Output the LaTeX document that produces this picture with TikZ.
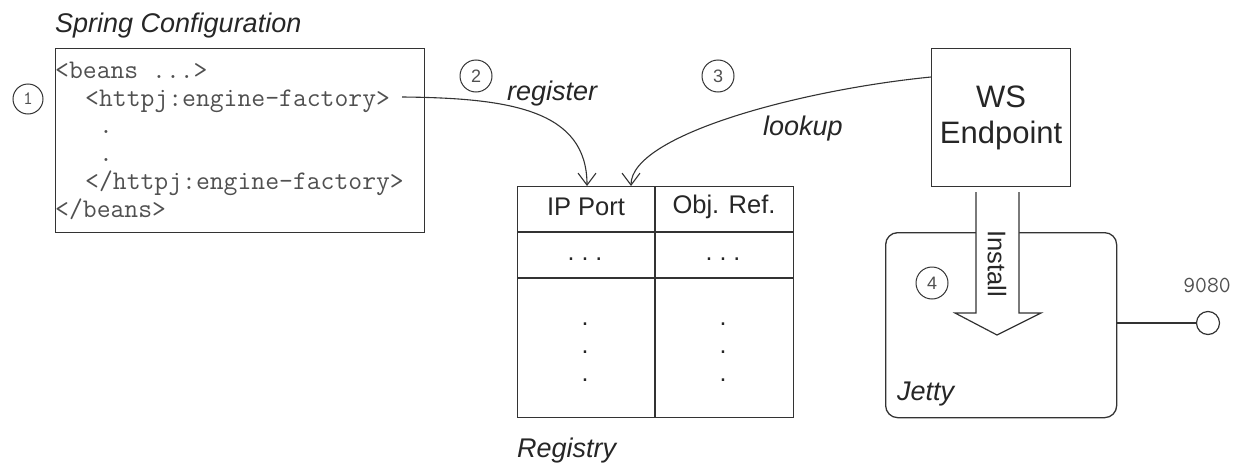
\documentclass[tikz,border=0pt]{standalone}
\usepackage{fontspec}
\setmainfont{Liberation Sans}
\usetikzlibrary{arrows.meta}
\definecolor{ln}{HTML}{333333}
\definecolor{codegray}{HTML}{505050}
\begin{document}
\begin{tikzpicture}[x=1pt,y=-1pt,
  box/.style={draw=ln, line width=1.3pt, inner sep=0pt, anchor=north west},
  code/.style={font=\fontsize{26.9}{30}\selectfont\ttfamily, text=codegray, inner sep=0pt, anchor=base west},
  num/.style={circle, draw=ln, line width=1pt, minimum size=32pt, inner sep=0pt, font=\fontsize{18}{20}\selectfont, text=codegray},
  lbl/.style={font=\fontsize{27}{30}\selectfont\itshape, text=black!85, inner sep=0pt, anchor=base west},
  cell/.style={font=\fontsize{25.5}{30}\selectfont, text=black!85, inner sep=0pt},
  dotc/.style={font=\fontsize{25}{30}\selectfont, text=black!85, inner sep=0pt, anchor=base},
  conn/.style={draw=ln, line width=1.1pt, -{Straight Barb[length=12pt,width=18pt,line width=1.1pt]}},
]
\useasboundingbox (0,0) rectangle (1239,463);

% Spring configuration
\node[lbl] (springlbl) at (55,32) {Spring Configuration};
\node[box, minimum width=369pt, minimum height=184pt] (spring) at (55,48) {};
\node[code] (c1) at (55,78) {<beans ...>};
\node[code] (c2) at (85,106) {<httpj:engine-factory>};
\node[code] (c3) at (99,133.5) {.};
\node[code] (c4) at (99,161.5) {.};
\node[code] (c5) at (85,189) {</httpj:engine-factory>};
\node[code] (c6) at (55,217) {</beans>};
\node[num, minimum size=30pt, font=\fontsize{19}{20}\selectfont\ttfamily] (n1) at (28,99) {1};

% Registry table
\node[box, minimum width=276pt, minimum height=231pt] (reg) at (517,186) {};
\draw[ln, line width=1.3pt] (517,232) -- (793,232);
\draw[ln, line width=1.3pt] (517,278) -- (793,278);
\draw[ln, line width=1.3pt] (655,186) -- (655,417);
\node[cell] (h1) at (586,207) {IP Port};
\node[cell] (h2) at (724,207) {Obj. Ref.};
\node[dotc] (d1) at (585,260.5) {.\ .\ .};
\node[dotc] (d2) at (723,260.5) {.\ .\ .};
\node[dotc] (v1) at (585,325.5) {.};
\node[dotc] (v2) at (585,353.5) {.};
\node[dotc] (v3) at (585,381.5) {.};
\node[dotc] (v4) at (723,325.5) {.};
\node[dotc] (v5) at (723,353.5) {.};
\node[dotc] (v6) at (723,381.5) {.};
\node[lbl] (reglbl) at (517,457) {Registry};

% WS endpoint
\node[box, minimum width=139pt, minimum height=138pt, align=center,
      font=\fontsize{31}{36}\selectfont, text=black!85] (ws) at (931,48) {WS\\Endpoint};

% Connectors
\coordinate (regstart) at (402,97);
\coordinate (regin1) at (587,186);
\coordinate (wsout) at (931,77);
\coordinate (regin2) at (631,186);
\draw[conn] (regstart) .. controls (510,98) and (587,110) .. (regin1);
\draw[conn] (wsout) .. controls (800,90) and (631,135) .. (regin2);
\node[num] (n2) at (476,76) {2};
\node[num] (n3) at (718,76) {3};
\node[lbl] (reglab) at (507,100) {register};
\node[lbl] (looklab) at (763,135) {lookup};

% Jetty
\node[box, rounded corners=12pt, minimum width=231pt, minimum height=185pt] (jetty) at (885,232) {};
\node[lbl] (jettylbl) at (897,400) {Jetty};
\node[num] (n4) at (932,283) {4};

% Install arrow
\fill[white] (976,192) -- (976,313) -- (955,313) -- (997,335) -- (1041,313) -- (1019,313) -- (1019,192) -- cycle;
\draw[ln, line width=1.2pt, line join=miter] (976,192) -- (976,313) -- (955,313) -- (997,335) -- (1041,313) -- (1019,313) -- (1019,192);
\node[cell, rotate=-90] (install) at (997,264) {Install};

% Port
\node[circle, draw=ln, line width=1.2pt, minimum size=23pt, inner sep=0pt] (port) at (1208,323) {};
\draw[ln, line width=2.4pt] (jetty.east |- port) -- (port.west);
\node[font=\fontsize{23}{24}\selectfont\ttfamily, text=codegray, inner sep=0pt] (portlbl) at (1207,285) {9080};
\end{tikzpicture}
\end{document}
